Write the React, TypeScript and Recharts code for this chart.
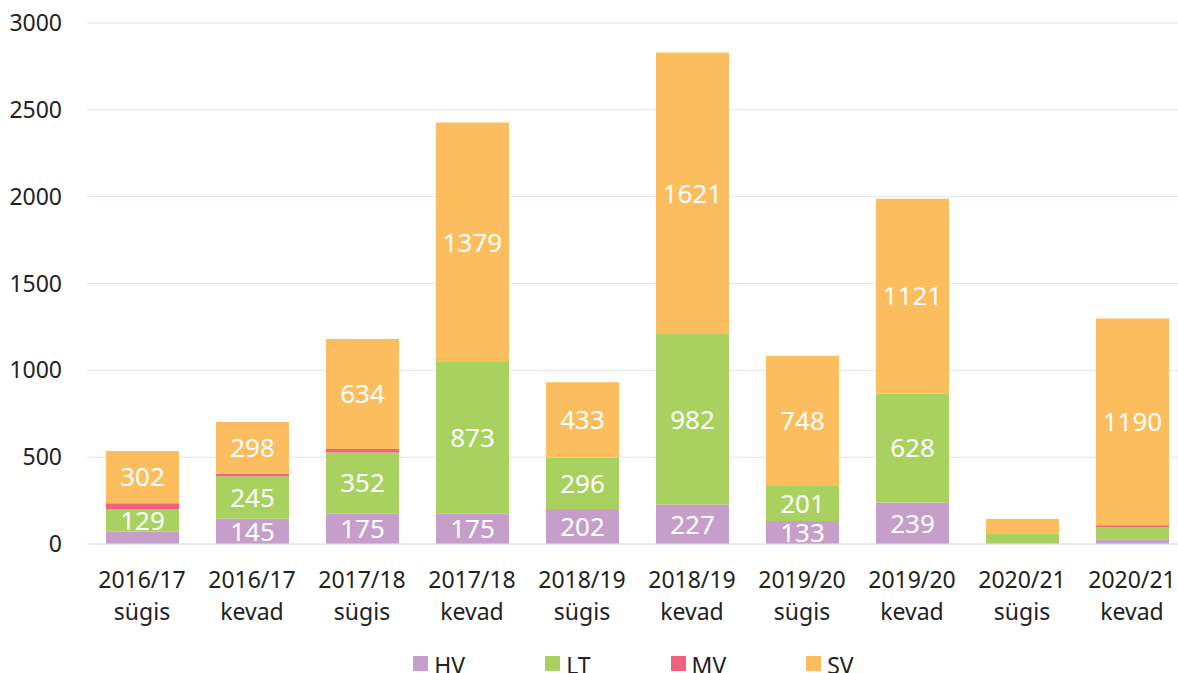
import React from 'react'
import {
  BarChart,
  Bar,
  XAxis,
  YAxis,
  CartesianGrid,
  Legend,
  LabelList,
} from 'recharts'

const years = ['2016/17', '2016/17', '2017/18', '2017/18', '2018/19', '2018/19', '2019/20', '2019/20', '2020/21', '2020/21']
const terms = ['sügis', 'kevad', 'sügis', 'kevad', 'sügis', 'kevad', 'sügis', 'kevad', 'sügis', 'kevad']

const hv = [70, 145, 175, 175, 202, 227, 133, 239, 0, 27]
const lt = [129, 245, 352, 873, 296, 982, 201, 628, 62, 71]
const mv = [35, 15, 20, 0, 0, 0, 0, 0, 0, 10]
const sv = [302, 298, 634, 1379, 433, 1621, 748, 1121, 82, 1190]

const yTicks = [0, 500, 1000, 1500, 2000, 2500, 3000]

const series = [
  { key: 'HV', color: '#c59fca' },
  { key: 'LT', color: '#a9d160' },
  { key: 'MV', color: '#ee637a' },
  { key: 'SV', color: '#fbbd5e' },
]

const data = years.map((y, i) => ({
  name: y + ' ' + terms[i],
  year: y,
  term: terms[i],
  HV: hv[i],
  LT: lt[i],
  MV: mv[i],
  SV: sv[i],
}))

const FONT = '"Noto Sans", "Open Sans", sans-serif'

const CategoryTick = (props: any) => {
  const { x, y, index } = props
  return (
    <text x={x} y={y} textAnchor="middle" fill="#222" fontSize={23} fontFamily={FONT}>
      <tspan x={x} dy={44}>{years[index]}</tspan>
      <tspan x={x} dy={32}>{terms[index]}</tspan>
    </text>
  )
}

const SegmentLabel = (props: any) => {
  const { x, y, width, height, value } = props
  if (value == null || value < 100) return null
  return (
    <text
      x={x + width / 2}
      y={y + height / 2}
      dy="0.36em"
      textAnchor="middle"
      fill="#fff"
      fontSize={26}
      fontFamily={FONT}
    >
      {value}
    </text>
  )
}

const LegendContent = () => (
  <div style={{ display: 'flex', justifyContent: 'center', height: 23, paddingLeft: 160 }}>
    {series.map((s) => (
      <div key={s.key} style={{ display: 'flex', alignItems: 'flex-start', marginRight: 80 }}>
        <span style={{ width: 15, height: 15, background: s.color, marginTop: 6, marginRight: 6 }} />
        <span style={{ fontSize: 23, lineHeight: '30px', color: '#222', fontFamily: FONT }}>{s.key}</span>
      </div>
    ))}
  </div>
)

export default function App() {
  return (
    <div
      style={{
        position: 'absolute',
        left: 0,
        top: 0,
        width: 1178,
        height: 673,
        overflow: 'hidden',
        fontFamily: FONT,
        background: '#fff',
      }}
    >
      <BarChart
        width={1190}
        height={673}
        data={data}
        margin={{ top: 23, right: 3, left: 0, bottom: 0 }}
        barSize={73}
      >
        <CartesianGrid vertical={false} stroke="#dde4f2" />
        <XAxis
          dataKey="name"
          axisLine={{ stroke: '#dde4f2' }}
          tickLine={false}
          tickSize={0}
          tickMargin={0}
          height={106}
          interval={0}
          tick={<CategoryTick />}
        />
        <YAxis
          width={87}
          domain={[0, 3000]}
          ticks={yTicks}
          axisLine={false}
          tickLine={false}
          tickSize={0}
          tickMargin={25}
          tick={{ fill: '#222', fontSize: 23, fontFamily: FONT }}
        />
        <Legend verticalAlign="bottom" content={<LegendContent />} />
        {series.map((s) => (
          <Bar key={s.key} dataKey={s.key} stackId="a" fill={s.color} isAnimationActive={false}>
            <LabelList dataKey={s.key} content={<SegmentLabel />} />
          </Bar>
        ))}
      </BarChart>
    </div>
  )
}
